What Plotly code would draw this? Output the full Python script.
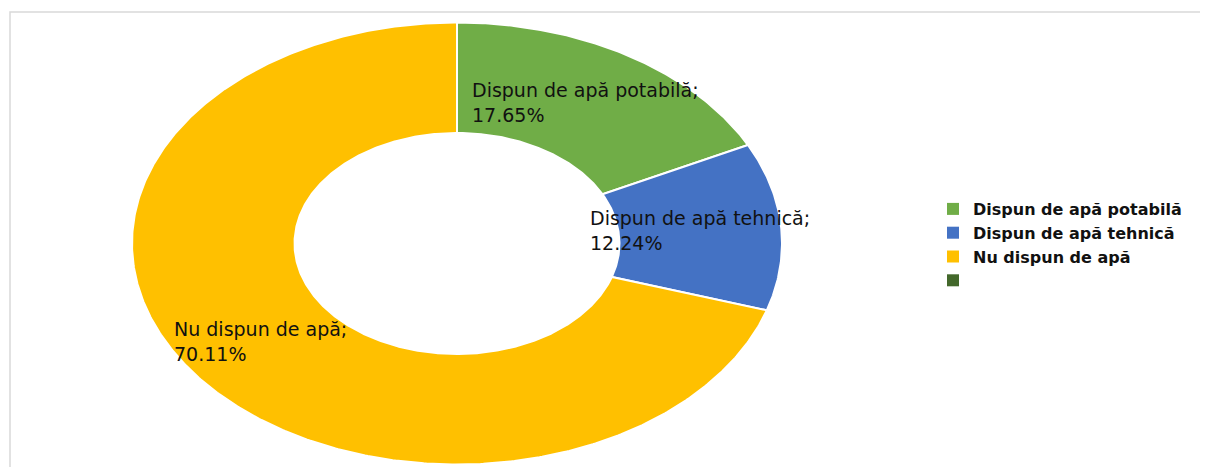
import numpy as np
import plotly.graph_objects as go

categories = ["Dispun de apă potabilă", "Dispun de apă tehnică", "Nu dispun de apă", ""]
values = [17.65, 12.24, 70.11, 0.0]
label_texts = ["17.65%", "12.24%", "70.11%", ""]
colors = ["#70AD47", "#4472C4", "#FFC000", "#43682B"]

HOLE = 0.5
OFF = 8                       # page body margin
W, H = 1208 - OFF, 467 - OFF
CX, CY = 457 - OFF, 243.5 - OFF   # pixel centre of the doughnut in figure coords
RX, RY = 325, 221                 # pixel radii (chart is stretched)

fig = go.Figure()

total = sum(values)
start = 0.0
for cat, val, col, lab in zip(categories, values, colors, label_texts):
    frac = val / total
    if frac > 0:
        th = np.linspace(start, start + frac, max(int(frac * 720), 4)) * 2 * np.pi
        xo, yo = np.sin(th), np.cos(th)
        xs = np.concatenate([xo, HOLE * xo[::-1], [xo[0]]])
        ys = np.concatenate([yo, HOLE * yo[::-1], [yo[0]]])
        fig.add_trace(go.Scatter(x=xs, y=ys, fill="toself", fillcolor=col, mode="lines",
                                 line=dict(color="white", width=2), showlegend=False,
                                 hoverinfo="skip"))
        mid = (start + frac / 2) * 2 * np.pi
        rm = (1 + HOLE) / 2
        fig.add_annotation(x=rm * np.sin(mid), y=rm * np.cos(mid), xref="x", yref="y",
                           text=f"{cat};<br>{lab}", showarrow=False, align="left",
                           xanchor="center", yanchor="middle",
                           font=dict(family="DejaVu Sans", size=19, color="#111111"))
    start += frac
    fig.add_trace(go.Scatter(x=[None], y=[None], mode="markers", name=cat if cat else " ",
                             marker=dict(symbol="square", size=10, color=col)))

fig.add_shape(type="rect", xref="paper", yref="paper", x0=2 / W, x1=1.02,
              y0=-0.02, y1=1 - 4 / H, line=dict(color="#d9d9d9", width=1.5),
              fillcolor="rgba(0,0,0,0)", layer="below")

fig.update_layout(
    width=W, height=H, margin=dict(l=0, r=0, t=0, b=0),
    paper_bgcolor="white", plot_bgcolor="white",
    xaxis=dict(range=[-CX / RX, (W - CX) / RX], visible=False, fixedrange=True),
    yaxis=dict(range=[-(H - CY) / RY, CY / RY], visible=False, fixedrange=True),
    showlegend=True,
    legend=dict(x=925 / W, y=1 - 184 / H, xanchor="left", yanchor="top",
                font=dict(family="DejaVu Sans", size=16, color="#111111", weight="bold"),
                bgcolor="rgba(0,0,0,0)", itemsizing="constant", itemwidth=30,
                tracegroupgap=0),
)

fig.write_html("out.html")
